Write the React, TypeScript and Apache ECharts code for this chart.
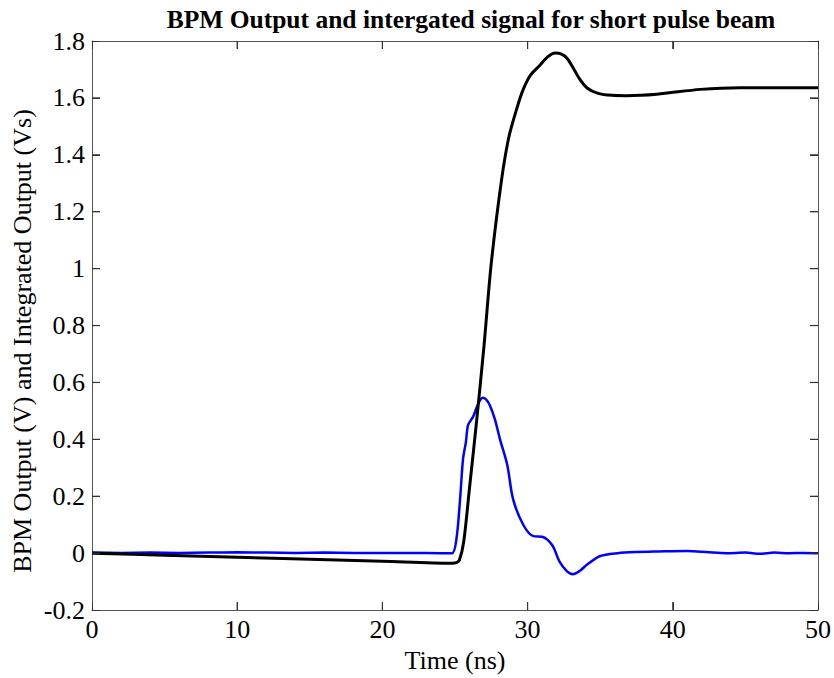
import React, { useEffect, useRef } from "react";
import * as echarts from "echarts";

const titleText = "BPM Output and intergated signal for short pulse beam";
const xLabel = "Time (ns)";
const yLabel = "BPM Output (V) and Integrated Output (Vs)";

const bpmOutput: [number, number][] = [
  [0, 0.002], [2, 0.001], [4, 0.002], [6, 0.001], [8, 0.002], [10, 0.003], [12, 0.002],
  [14, 0.001], [16, 0.002], [18, 0.001], [20, 0.001], [22, 0.001], [24, 0.0], [24.8, 0.0],
  [25.1, 0.05], [25.35, 0.19], [25.55, 0.33], [25.75, 0.39], [25.9, 0.45], [26.25, 0.48],
  [26.6, 0.525], [26.9, 0.546], [27.15, 0.54], [27.4, 0.52], [27.75, 0.47], [28.1, 0.4],
  [28.6, 0.31], [29.0, 0.19], [29.7, 0.1], [30.4, 0.06], [31.0, 0.058], [31.7, 0.028],
  [32.2, -0.03], [32.7, -0.063], [33.1, -0.074], [33.6, -0.062], [34.1, -0.04], [35.0, -0.01],
  [36.2, 0.0], [37.5, 0.004], [39, 0.006], [41, 0.008], [42.5, 0.003], [43.7, 0.0],
  [45, 0.002], [46, -0.002], [47, 0.002], [48, 0.0], [49, 0.001], [50, 0.0],
];

const integrated: [number, number][] = [
  [0, 0.0], [5, -0.007], [10, -0.014], [15, -0.021], [20, -0.028], [24.8, -0.035],
  [25.1, -0.033], [25.3, -0.025], [25.6, 0.04], [26.0, 0.23], [26.5, 0.47], [27.0, 0.73],
  [27.5, 1.02], [28.2, 1.31], [28.7, 1.46], [29.3, 1.57], [29.7, 1.63], [30.2, 1.68],
  [30.85, 1.715], [31.4, 1.745], [31.9, 1.758], [32.3, 1.755], [32.7, 1.74], [33.2, 1.7],
  [33.6, 1.665], [34.1, 1.635], [34.8, 1.617], [35.8, 1.609], [36.8, 1.608], [38.9, 1.613],
  [41.9, 1.63], [44.6, 1.636], [50, 1.636],
];

const xTickValues = [10, 20, 30, 40];
const yTickValues = [0, 0.2, 0.4, 0.6, 0.8, 1, 1.2, 1.4, 1.6];
const xRange = { min: 0, max: 50, interval: 10 };
const yRange = { min: -0.2, max: 1.8, interval: 0.2 };

export default function App() {
  const ref = useRef<HTMLDivElement>(null);
  useEffect(() => {
    if (!ref.current) return;
    const chart = echarts.init(ref.current, null, { renderer: "svg" });
    const font = "'Liberation Serif', 'Times New Roman', serif";
    const tickColor = "#333333";
    const tickLen = 8;
    const mkLine = () => ({ show: true, onZero: false, lineStyle: { color: "#555555" } });
    const mkTick = () => ({ show: true, inside: true, length: tickLen, lineStyle: { color: tickColor } });
    const tickStyle = { stroke: tickColor, lineWidth: 1.2, fill: "none" };
    chart.setOption({
      animation: false,
      backgroundColor: "#ffffff",
      grid: { left: 92, right: 16, top: 41, bottom: 66, containLabel: false },
      xAxis: [
        {
          type: "value", ...xRange, position: "bottom",
          axisLine: mkLine(), axisTick: mkTick(), splitLine: { show: false },
          axisLabel: { color: "#000", fontSize: 26, fontFamily: font, margin: 6 },
          name: xLabel, nameLocation: "middle", nameGap: 35,
          nameTextStyle: { color: "#000", fontSize: 26, fontFamily: font },
        },
        {
          type: "value", ...xRange, position: "top",
          axisLine: mkLine(), axisTick: mkTick(), splitLine: { show: false },
          axisLabel: { show: false },
        },
      ],
      yAxis: [
        {
          type: "value", ...yRange, position: "left",
          axisLine: mkLine(), axisTick: mkTick(), splitLine: { show: false },
          axisLabel: {
            color: "#000", fontSize: 26, fontFamily: font, margin: 7,
            formatter: (v: number) => String(Math.round(v * 10) / 10),
          },
        },
        {
          type: "value", ...yRange, position: "right",
          axisLine: mkLine(), axisTick: mkTick(), splitLine: { show: false },
          axisLabel: { show: false },
        },
      ],
      graphic: [
        {
          type: "text", x: 471, y: 19,
          style: {
            text: titleText, fill: "#000", font: `bold 25.5px ${font}`,
            textAlign: "center", textVerticalAlign: "middle",
          },
        },
        {
          type: "text", x: 22, y: 341, rotation: Math.PI / 2,
          style: {
            text: yLabel, fill: "#000", font: `26px ${font}`,
            textAlign: "center", textVerticalAlign: "middle",
          },
        },
      ],
      series: [
        {
          type: "custom", silent: true, clip: false, z: 5,
          encode: { x: 0, y: 1 },
          data: xTickValues.map((v) => [v, yRange.min]),
          renderItem: (_p: any, api: any) => {
            const b = api.coord([api.value(0), yRange.min]);
            const t = api.coord([api.value(0), yRange.max]);
            return {
              type: "group",
              children: [
                { type: "line", shape: { x1: b[0], y1: b[1], x2: b[0], y2: b[1] - tickLen }, style: tickStyle },
                { type: "line", shape: { x1: t[0], y1: t[1], x2: t[0], y2: t[1] + tickLen }, style: tickStyle },
              ],
            };
          },
        },
        {
          type: "custom", silent: true, clip: false, z: 5,
          encode: { x: 0, y: 1 },
          data: yTickValues.map((v) => [xRange.min, v]),
          renderItem: (_p: any, api: any) => {
            const l = api.coord([xRange.min, api.value(1)]);
            const r = api.coord([xRange.max, api.value(1)]);
            return {
              type: "group",
              children: [
                { type: "line", shape: { x1: l[0], y1: l[1], x2: l[0] + tickLen, y2: l[1] }, style: tickStyle },
                { type: "line", shape: { x1: r[0], y1: r[1], x2: r[0] - tickLen, y2: r[1] }, style: tickStyle },
              ],
            };
          },
        },
        {
          type: "line", data: bpmOutput, showSymbol: false, smooth: 0.3,
          lineStyle: { color: "#0000ff", width: 2.5 }, z: 2,
        },
        {
          type: "line", data: integrated, showSymbol: false, smooth: 0.3,
          lineStyle: { color: "#000", width: 3 }, z: 3,
        },
      ],
    });
    return () => chart.dispose();
  }, []);
  return <div ref={ref} style={{ width: 834, height: 678, position: "absolute", left: 0, top: 0 }} />;
}
